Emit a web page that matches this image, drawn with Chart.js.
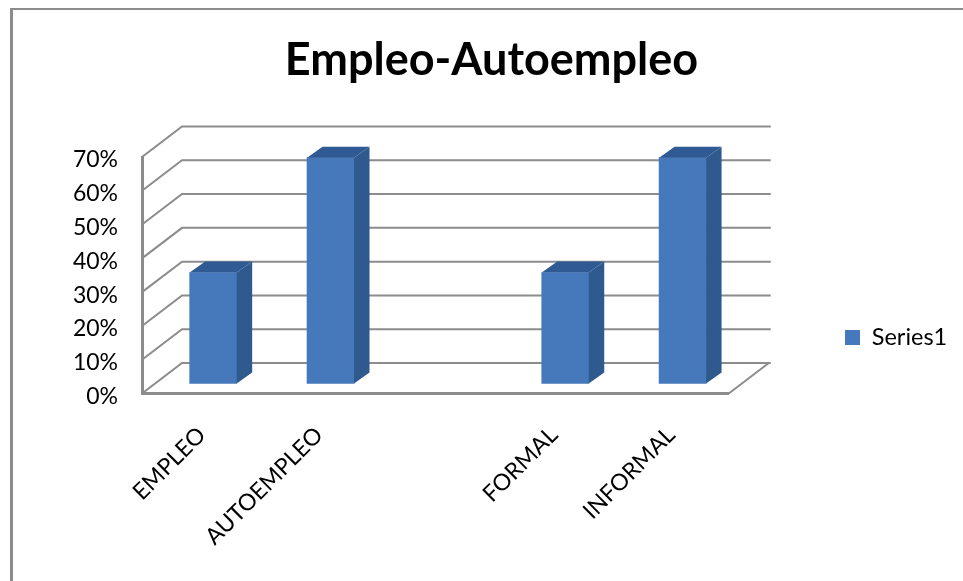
<!DOCTYPE html>
<html>
<head>
<meta charset="utf-8">
<title>Empleo-Autoempleo</title>
<script src="https://cdn.jsdelivr.net/npm/chart.js@4"></script>
<style>
  html, body { margin: 0; padding: 0; background: #fff; overflow: hidden; }
  #frame { position: absolute; left: 10px; top: 8px; right: 0; bottom: 0; border-left: 3px solid #8c8c8c; border-top: 2px solid #8c8c8c; }
  #chart { position: absolute; left: 20px; top: 0; }
</style>
</head>
<body>
<div id="frame"></div>
<canvas id="chart" width="943" height="581"></canvas>
<script>
const CATEGORIES = ['EMPLEO', 'AUTOEMPLEO', '', 'FORMAL', 'INFORMAL'];
const SERIES1 = [0.33, 0.67, null, 0.33, 0.67];
const SERIES_NAME = 'Series1';
const CHART_TITLE = 'Empleo-Autoempleo';

const FONT = 'Lato, "Open Sans", sans-serif';
const GRID_COLOR = '#8c8c8c';
const BAR_FRONT = '#4679bb';
const BAR_SIDE = '#2f5a8e';
const BAR_TOP = '#2f5a94';

// fake 3D: how far the back wall sits from the front axis, and where the bars sit in that depth
const WALL_DX = 40, WALL_DY = -30.5;
const BAR_DX = 12.5, BAR_DY = -9.5;
const BAR_DEPTH_X = 15.5, BAR_DEPTH_Y = -11;

const fake3d = {
  id: 'fake3d',
  afterLayout(chart) {
    // title is centred on the whole frame, legend goes right of the back wall
    chart.titleBlock.right = chart.width;
    const lg = chart.legend;
    const w = lg.right - lg.left;
    lg.left = 815;
    lg.right = lg.left + w;
    lg.top += 47;
    lg.bottom += 47;
  },
  beforeDatasetsDraw(chart) {
    const { ctx, chartArea, scales } = chart;
    ctx.save();
    ctx.strokeStyle = GRID_COLOR;
    ctx.lineWidth = 2;
    scales.y.ticks.forEach(t => {
      const y = scales.y.getPixelForValue(t.value);
      ctx.beginPath();
      ctx.moveTo(chartArea.left, y);
      ctx.lineTo(chartArea.left + WALL_DX, y + WALL_DY);
      ctx.lineTo(chartArea.right + WALL_DX + 2, y + WALL_DY);
      ctx.stroke();
    });
    // right edge of the floor
    ctx.beginPath();
    ctx.moveTo(chartArea.right, chartArea.bottom);
    ctx.lineTo(chartArea.right + WALL_DX, chartArea.bottom + WALL_DY);
    ctx.stroke();
    ctx.restore();

    ctx.save();
    ctx.translate(BAR_DX, BAR_DY);
  },
  afterDatasetsDraw(chart) {
    const { ctx } = chart;
    chart.getDatasetMeta(0).data.forEach((bar, i) => {
      if (SERIES1[i] == null) return;
      const { x, y, base, width } = bar.getProps(['x', 'y', 'base', 'width'], true);
      const l = x - width / 2, r = x + width / 2;
      ctx.fillStyle = BAR_SIDE;
      ctx.beginPath();
      ctx.moveTo(r, y);
      ctx.lineTo(r + BAR_DEPTH_X, y + BAR_DEPTH_Y);
      ctx.lineTo(r + BAR_DEPTH_X, base + BAR_DEPTH_Y);
      ctx.lineTo(r, base);
      ctx.closePath();
      ctx.fill();
      ctx.fillStyle = BAR_TOP;
      ctx.beginPath();
      ctx.moveTo(l, y);
      ctx.lineTo(l + BAR_DEPTH_X, y + BAR_DEPTH_Y);
      ctx.lineTo(r + BAR_DEPTH_X, y + BAR_DEPTH_Y);
      ctx.lineTo(r, y);
      ctx.closePath();
      ctx.fill();
    });
    ctx.restore();
  }
};

new Chart(document.getElementById('chart'), {
  type: 'bar',
  data: {
    labels: CATEGORIES,
    datasets: [{
      label: SERIES_NAME,
      data: SERIES1,
      backgroundColor: BAR_FRONT,
      barThickness: 47,
      clip: false
    }]
  },
  options: {
    responsive: false,
    animation: false,
    layout: { padding: { left: 0, right: 112, top: 0, bottom: 0 } },
    plugins: {
      title: {
        display: true,
        text: CHART_TITLE,
        color: '#000',
        font: { family: FONT, size: 45, weight: 'bold' },
        padding: { top: 33, bottom: 70 }
      },
      legend: {
        position: 'right',
        labels: {
          color: '#000',
          font: { family: FONT, size: 23.5 },
          boxWidth: 15,
          boxHeight: 15
        }
      },
      tooltip: { enabled: false }
    },
    scales: {
      x: {
        afterFit(scale) { scale.height = 187.5; },
        grid: { drawOnChartArea: false, drawTicks: false },
        border: { color: GRID_COLOR, width: 3 },
        ticks: {
          autoSkip: false,
          minRotation: 45,
          maxRotation: 45,
          padding: 28,
          labelOffset: 1,
          color: '#000',
          font: { family: FONT, size: 23 }
        }
      },
      y: {
        min: 0,
        max: 0.7,
        afterFit(scale) { scale.width = 122; },
        grid: { drawOnChartArea: false, drawTicks: false },
        border: { color: GRID_COLOR, width: 3 },
        ticks: {
          stepSize: 0.1,
          padding: 24,
          labelOffset: 3,
          color: '#000',
          font: { family: FONT, size: 23 },
          callback: v => Math.round(v * 100) + '%'
        }
      }
    }
  },
  plugins: [fake3d]
});
</script>
</body>
</html>
